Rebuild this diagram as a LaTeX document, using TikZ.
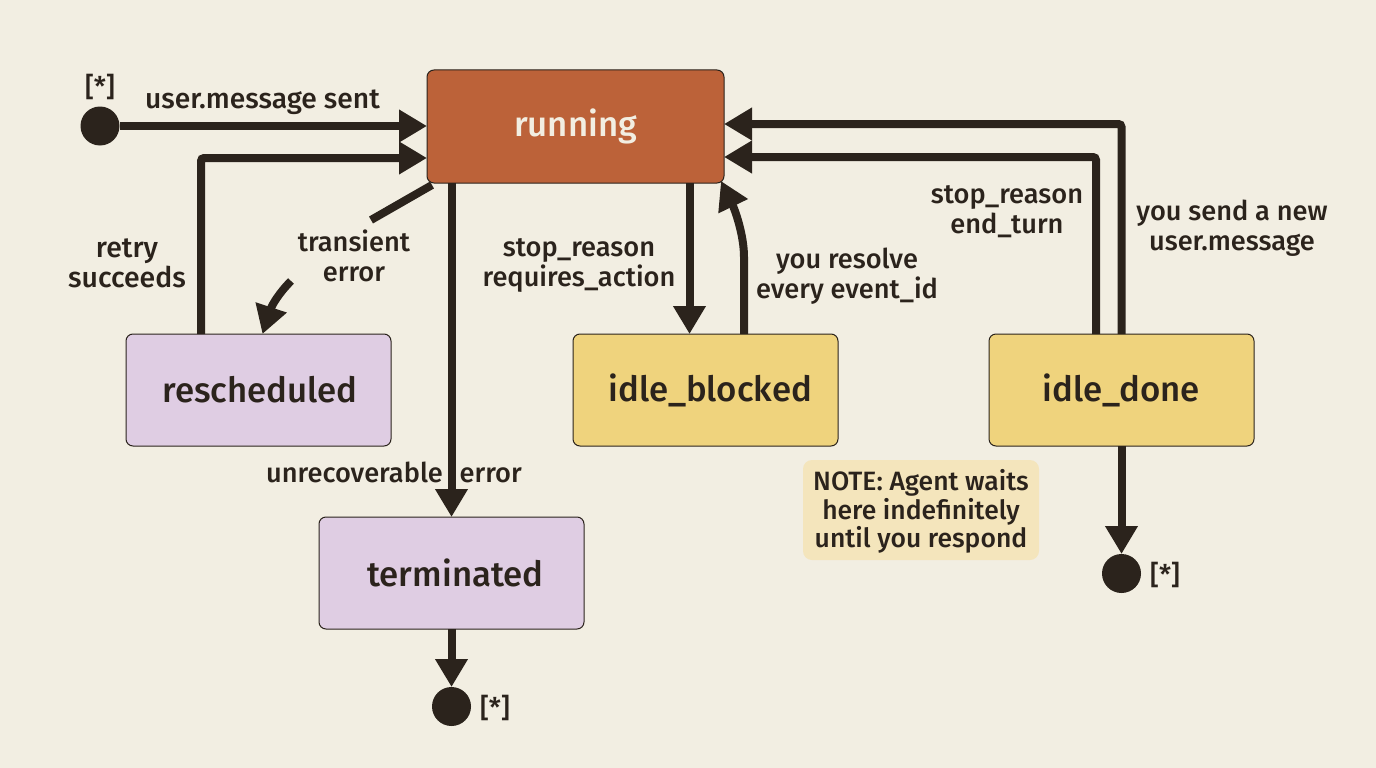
\documentclass[tikz,border=0pt]{standalone}
\usepackage{fontspec}
\setmainfont{Fira Sans}
\newfontfamily\medfont{Fira Sans Medium}
\usetikzlibrary{positioning,arrows.meta}
\definecolor{paper}{HTML}{F2EEE2}
\definecolor{ink}{HTML}{2B231C}
\definecolor{rust}{HTML}{BC6239}
\definecolor{lilac}{HTML}{DFCDE3}
\definecolor{butter}{HTML}{EFD37D}
\definecolor{cream}{HTML}{F4E5BC}
\newcommand{\noteline}[1]{\raisebox{-2.5pt}[20pt][7pt]{#1}}
\tikzstyle{state} = [rectangle, draw=ink, line width=1pt, rounded corners=7pt, outer sep=0pt, minimum width=265pt, minimum height=112pt, text=ink, font=\fontsize{34.8}{38}\medfont]
\tikzstyle{dot} = [circle, fill=ink, inner sep=0pt, outer sep=0pt, minimum size=39pt]
\tikzstyle{label} = [align=center, text=ink, inner sep=0pt, font=\fontsize{27.2}{30}\medfont]
\tikzstyle{flow} = [draw=ink, line width=8pt, rounded corners=3pt, -{Triangle[length=28pt,width=31pt]}]

\begin{document}
\begin{tikzpicture}[x=1pt, y=-1pt]

        \path [use as bounding box, fill=paper] (0,0) rectangle (1376,768);

        \node [state, fill=rust, text=paper, minimum width=297pt, minimum height=113pt] (running) at (575.5,126.5) {running};
        \node [state, fill=lilac, below left = 151pt and 36pt of running] (rescheduled) {\hspace{3pt}rescheduled};
        \node [state, fill=butter, below = 151pt of running, xshift=130pt] (idleblocked) {\hspace{10pt}idle\_blocked};
        \node [state, fill=butter, right = 151pt of idleblocked] (idledone) {idle\_done};
        \node [state, fill=lilac, below = 71pt of rescheduled, xshift=193pt] (terminated) {\hspace{8pt}terminated};
        \node [rectangle, fill=cream, rounded corners=9pt, minimum width=236pt, minimum height=100pt, align=center, text=ink, inner sep=0pt, font=\fontsize{26.5}{28.5}\medfont] (note) at (921,510) {\noteline{NOTE: Agent waits}\\\noteline{here indefinitely}\\\noteline{until you respond}};

        \node [dot] (start) at (100,126) {};
        \node [dot, below = 58pt of terminated] (endterminated) {};
        \node [dot, below = 108pt of idledone] (enddone) {};
        \node [label] (startmark) at (100,87) {[*]};
        \node [label, right = 9pt of enddone, yshift=-1pt] (donemark) {[*]};
        \node [label, right = 9pt of endterminated, yshift=-1pt] (terminatedmark) {[*]};

        \coordinate (transientout) at (371,220);
        \coordinate (transientin) at (291,281);

        \draw [flow] (start) -- (start -| running.west);
        \draw [flow] ([xshift=-57.5pt]rescheduled.north) |- ([yshift=-31.5pt]running.west);
        \draw [draw=ink, line width=8pt] ([xshift=5pt,yshift=-2pt]running.south west) -- (transientout);
        \draw [flow] (transientin) .. controls (279,293) and (272,305) .. ([xshift=4pt]rescheduled.north);
        \draw [flow] ([xshift=-124pt]running.south) -- (terminated.north);
        \draw [flow] ([xshift=-16pt]idleblocked.north |- running.south) -- ([xshift=-16pt]idleblocked.north);
        \draw [flow] ([xshift=38.5pt]idleblocked.north) -- ++(0,-74) .. controls ++(0,-25) and (735,210) .. ([xshift=-3pt,yshift=2pt]running.south east);
        \draw [flow] ([xshift=-25.5pt]idledone.north) |- ([yshift=-30.5pt]running.east);
        \draw [flow] (idledone.north) |- ([yshift=2.5pt]running.east);
        \draw [flow] (idledone) -- (enddone);
        \draw [flow] (terminated) -- (endterminated);

        \node [label, font=\fontsize{28.2}{30}\medfont] (sentlabel) at (262.5,102.5) {user.message sent};
        \node [label, font=\fontsize{28.4}{30}\medfont] (retrylabel) at (127,263.5) {retry\\succeeds};
        \node [label] (transientlabel) at (354,256) {transient\\error};
        \node [label] (errorlabel) at (394,472) {unrecoverable\hspace{10pt} error};
        \node [label] (requireslabel) at (579,265) {stop\_reason\\requires\_action};
        \node [label] (resolvelabel) at (847,276) {you resolve\\every event\_id};
        \node [label] (endturnlabel) at (1007,211.5) {stop\_reason\\end\_turn};
        \node [label] (newlabel) at (1232,228) {you send a new\\user.message};

\end{tikzpicture}
\end{document}
